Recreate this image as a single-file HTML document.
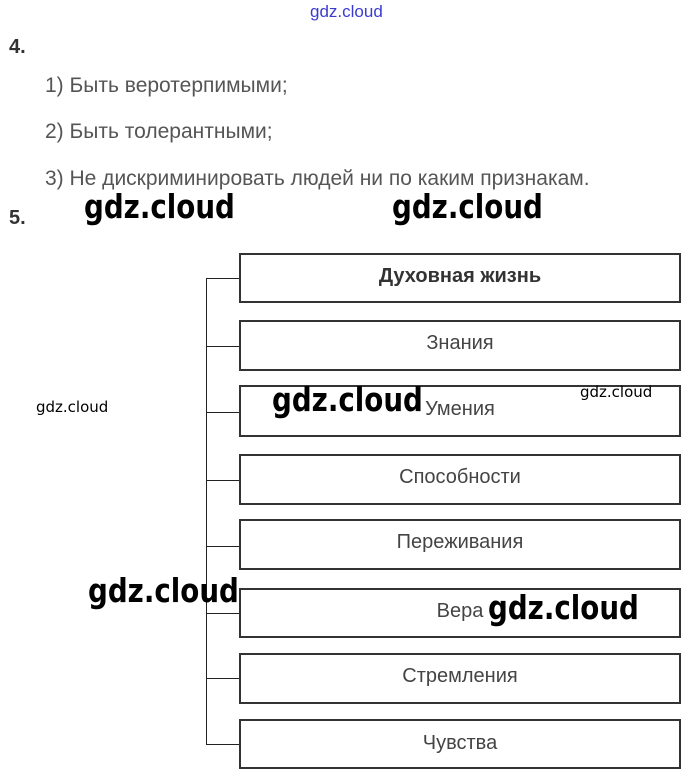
<!DOCTYPE html>
<html><head><meta charset="utf-8"><style>
body{margin:0;width:695px;height:783px;background:#fff;position:relative;overflow:hidden;font-family:"Liberation Sans",sans-serif}
.a{position:absolute;white-space:nowrap}
.t{color:#555;font-size:21px}
.box{position:absolute;left:239px;width:442px;border:2px solid #333;box-sizing:border-box;background:#fff;text-align:center;color:#444;font-size:20px}
.h{position:absolute;left:206px;width:33px;height:1px;background:#222}
.w{position:absolute;font-family:"DejaVu Sans","Liberation Sans",sans-serif;font-weight:bold;color:#000;white-space:nowrap;transform-origin:0 0;transform:scaleX(0.84)}
</style></head><body>
<div class="a" style="left:310px;top:2px;color:#3b3bd0;font-size:17px;">gdz.cloud</div>
<div class="a" style="left:9px;top:36px;font-size:20px;font-weight:bold;color:#333">4.</div>
<div class="a t" style="left:45px;top:74px">1) Быть веротерпимыми;</div>
<div class="a t" style="left:45px;top:120px">2) Быть толерантными;</div>
<div class="a t" style="left:45px;top:167px">3) Не дискриминировать людей ни по каким признакам.</div>
<div class="a" style="left:9px;top:207px;font-size:20px;font-weight:bold;color:#333">5.</div>

<div style="position:absolute;left:206px;top:278px;width:1px;height:467px;background:#222"></div>
<div class="h" style="top:278px"></div>
<div class="h" style="top:346px"></div>
<div class="h" style="top:412px"></div>
<div class="h" style="top:480px"></div>
<div class="h" style="top:546px"></div>
<div class="h" style="top:613px"></div>
<div class="h" style="top:678px"></div>
<div class="h" style="top:744px"></div>

<div class="box" style="top:253px;height:50px;line-height:42px;font-weight:bold;color:#333">Духовная жизнь</div>
<div class="box" style="top:320px;height:51px;line-height:42px">Знания</div>
<div class="box" style="top:385px;height:52px;line-height:44px">Умения</div>
<div class="box" style="top:454px;height:51px;line-height:42px">Способности</div>
<div class="box" style="top:519px;height:51px;line-height:42px">Переживания</div>
<div class="box" style="top:588px;height:50px;line-height:42px">Вера</div>
<div class="box" style="top:653px;height:51px;line-height:42px">Стремления</div>
<div class="box" style="top:719px;height:50px;line-height:44px">Чувства</div>

<div class="w" style="left:84px;top:187px;font-size:33px">gdz.cloud</div>
<div class="w" style="left:392px;top:187px;font-size:33px">gdz.cloud</div>
<div class="w" style="left:36px;top:398px;font-size:15px;font-weight:normal;transform:none">gdz.cloud</div>
<div class="w" style="left:272px;top:380px;font-size:33px">gdz.cloud</div>
<div class="w" style="left:580px;top:383px;font-size:15px;font-weight:normal;transform:none">gdz.cloud</div>
<div class="w" style="left:88px;top:571px;font-size:33px">gdz.cloud</div>
<div class="w" style="left:488px;top:588px;font-size:33px">gdz.cloud</div>
</body></html>
